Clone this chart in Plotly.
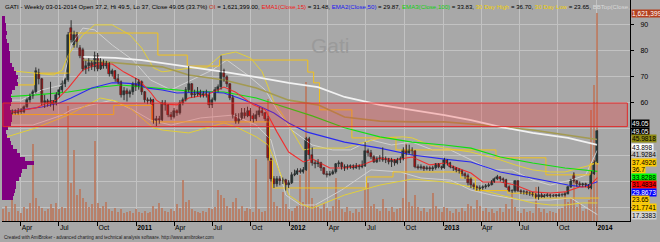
import plotly.graph_objects as go
import pandas as pd

# ---------------- data ----------------
START = "2010-02-19"          # first weekly bar
OPEN = [61.5, 56, 56.5, 55.8, 56.8, 56.2, 57, 56.5, 58.5, 61,
        62.5, 64, 71.5, 69, 60, 60.5, 59.5, 60.5, 59.5, 63,
        65, 67, 68.5, 88.5, 82, 86, 81, 80, 73, 74,
        75, 73.5, 78, 73, 75.5, 74, 75, 71, 72, 69,
        68, 63, 64.5, 63.5, 64, 67, 66, 68, 64, 61,
        60.5, 61, 53, 54, 53.5, 60, 59, 55.5, 54.5, 57,
        56, 60, 61, 65, 67, 63, 63.5, 64, 63, 63.5,
        63, 59, 61, 65, 66, 72, 70, 67, 62, 55,
        52.5, 54, 56, 55, 57, 55, 54, 55.5, 57, 56,
        54, 38.5, 31, 29, 31, 30, 30.5, 28.5, 29.5, 32.5,
        33, 34, 33.5, 34.5, 46, 40, 37, 36.5, 37, 35,
        33, 32.5, 33, 33.5, 36.5, 37, 35.5, 35, 35.5, 35.8,
        35.2, 36, 35.5, 36, 41.5, 41, 39.5, 37.5, 38.5, 39,
        38, 38.5, 37.5, 38, 37, 38, 38.5, 42, 41, 42,
        41.5, 35.5, 35, 35.5, 34.8, 35.2, 34.6, 35, 36.5, 35.5,
        35, 38, 37, 35.5, 35, 34.5, 34, 33, 32, 31,
        28.5, 28, 27, 27.5, 27.8, 28.2, 28.8, 29.8, 30.8, 31.5,
        30.8, 30.5, 28, 26.5, 26.2, 30, 26.5, 26, 25.8, 25.3,
        25.5, 25, 24, 24.8, 24.2, 24.5, 24.8, 24.3, 24.6, 24.4,
        24.9, 24.7, 25.2, 27.8, 32.5, 30, 29, 28.5, 29, 28.5,
        27.5, 33, 37.2]
HIGH = [62.5, 57.5, 57, 57.5, 57.5, 58, 58, 59, 62, 63.5,
        65, 73.5, 73, 69.5, 63, 61.5, 68, 61, 64, 66,
        68.5, 69.5, 87, 91.5, 87.5, 87, 82, 81, 76, 77,
        76, 79.5, 79, 77, 76.5, 76, 75.5, 73, 72.5, 71,
        68.5, 66, 65.5, 65, 68, 69.5, 69, 68.5, 64.5, 62,
        62, 61.5, 55, 55, 61, 61, 59.5, 56.5, 58, 57.5,
        61, 62, 66, 74, 67.5, 65, 66, 65, 64.5, 65,
        64, 62, 66, 67, 78, 73, 70.5, 67.5, 63, 56,
        56, 58, 58, 58.5, 58, 56, 57, 58.5, 58, 56.5,
        55, 39, 32, 32, 32, 31.5, 31, 30.5, 33.5, 34.5,
        35, 35, 35.5, 47, 47, 43, 38, 38.5, 37.5, 35.5,
        34, 34, 34.5, 37, 38, 37.5, 36.5, 36.5, 36.5, 36.5,
        37, 36.5, 38, 45, 42.5, 42, 40, 39.5, 40, 43,
        39.5, 39, 39, 38.5, 39, 39.5, 43, 44, 44, 43,
        42, 36.5, 36.5, 36, 36, 35.8, 36, 37, 37, 36,
        39, 38.5, 37.5, 36, 35.5, 35, 34.5, 33.5, 33, 31.5,
        29.5, 28.5, 28.5, 28.5, 29, 29.5, 30.5, 31.5, 32.5, 32,
        31.5, 31, 28.5, 27, 30.5, 30.5, 27, 26.8, 26.5, 26.2,
        26, 25.5, 28, 25.5, 25.2, 25.5, 25.3, 25.2, 25.2, 25.5,
        25.5, 25.8, 28.3, 31, 33.5, 30.5, 30, 29.5, 29.5, 29,
        34, 38, 49.5]
LOW = [55, 53, 55, 55.5, 55.5, 55.5, 55.8, 56, 58, 60,
       61.5, 63.5, 67, 59, 58, 58.5, 58.5, 57, 59, 62,
       64, 66, 68, 83, 81, 81, 77, 72, 71, 72,
       72.5, 72, 72, 72.5, 73, 73, 70, 70, 68, 67,
       62, 61, 60.5, 62, 63, 64.5, 65, 63, 60, 59.5,
       59.5, 52, 51, 52, 53, 57, 54.5, 53.5, 54, 55,
       55.5, 59, 60.5, 64, 62, 62, 62.5, 62, 62, 62,
       58, 58, 60.5, 64, 65, 68, 66, 61, 54, 52,
       52, 53.5, 54, 54.5, 53, 52.5, 53, 54.5, 55, 53,
       38, 30, 27.5, 28, 28.5, 29, 26.5, 27.5, 29, 32,
       32.5, 33, 33, 34, 38.5, 36, 35, 35.5, 34, 32.5,
       31.5, 32, 32.5, 33, 35.5, 34.5, 34, 34.5, 34.8, 34.5,
       34.8, 34.5, 35, 35.5, 39.5, 38.5, 37, 37, 37.5, 37.5,
       37, 36.5, 35.5, 36, 36.5, 37, 38, 40, 40.5, 40,
       35, 34.5, 34.5, 34, 34.2, 34, 34, 34.5, 35, 34.5,
       34.8, 36, 35, 34, 33.5, 33, 32, 31, 28.5, 27.5,
       27, 26.5, 26.5, 26.8, 27.2, 27.8, 28.5, 29.5, 30.5, 30,
       29.5, 27.5, 26, 25.5, 25.8, 26, 25.2, 25, 24.8, 24.5,
       24.2, 23.5, 23, 23.8, 23.8, 24, 23.8, 24, 23.9, 24.1,
       24.2, 24.3, 25, 27.5, 29.5, 28, 28, 28, 27.8, 27,
       27, 32.5, 37]
CLOSE = [56, 56.5, 55.8, 56.8, 56.2, 57, 56.5, 58.5, 61, 62.5,
         64, 72, 69, 60, 60.5, 59.5, 60.5, 59.5, 63, 65,
         67, 68.5, 86, 84, 86, 83, 78, 73, 74, 75,
         73.5, 78, 73, 75.5, 74, 75, 71, 72, 69, 68,
         63, 64.5, 63.5, 64, 67, 66, 68, 64, 61, 60.5,
         61, 53, 54, 53.5, 60, 59, 55.5, 54.5, 57, 56,
         60, 61, 65, 67, 63, 63.5, 64, 63, 63.5, 63,
         59, 61, 65, 66, 72, 70, 67, 62, 55, 52.5,
         54, 56, 55, 57, 55, 54, 55.5, 57, 56, 54,
         39, 31, 29, 31, 30, 30.5, 28.5, 29.5, 32.5, 33,
         34, 33.5, 34.5, 46, 40, 37, 36.5, 37, 35, 33,
         32.5, 33, 33.5, 36.5, 37, 35.5, 35, 35.5, 35.8, 35.2,
         36, 35.5, 36, 41.5, 41, 39.5, 37.5, 38.5, 39, 38,
         38.5, 37.5, 38, 37, 38, 38.5, 42, 41, 42, 41.5,
         35.5, 35, 35.5, 34.8, 35.2, 34.6, 35, 36.5, 35.5, 35,
         38, 37, 35.5, 35, 34.5, 34, 33, 32, 29.5, 28.5,
         28, 27, 27.5, 27.8, 28.2, 28.8, 29.8, 30.8, 31.5, 30.8,
         30.5, 28, 26.5, 26.2, 30, 26.5, 26, 25.8, 25.3, 25.5,
         25, 24, 24.8, 24.2, 24.5, 24.8, 24.3, 24.6, 24.4, 24.9,
         24.7, 25.2, 27.8, 30.5, 30, 29, 28.5, 29, 28.5, 27.5,
         33, 37, 49.05]
VOLUME_K = [95, 120, 70, 410, 130, 80, 60, 110, 90, 140,
            600, 180, 120, 100, 80, 90, 130, 100, 140, 90,
            110, 100, 900, 300, 550, 200, 250, 180, 150, 110,
            130, 620, 140, 100, 120, 150, 90, 80, 100, 70,
            90, 60, 70, 80, 60, 90, 70, 60, 80, 60,
            70, 120, 90, 140, 100, 80, 70, 90, 80, 130,
            100, 320, 150, 160, 90, 80, 70, 60, 80, 70,
            100, 90, 110, 240, 200, 180, 120, 100, 150, 180,
            90, 120, 80, 100, 90, 70, 480, 90, 70, 80,
            950, 490, 150, 120, 100, 225, 130, 90, 80, 100,
            120, 360, 150, 1080, 460, 180, 130, 110, 90, 140,
            100, 80, 120, 335, 160, 90, 70, 110, 80, 60,
            90, 70, 100, 250, 300, 120, 130, 90, 80, 170,
            100, 80, 110, 70, 90, 100, 180, 610, 150, 120,
            200, 110, 80, 100, 70, 90, 220, 120, 90, 70,
            110, 100, 80, 60, 90, 70, 100, 80, 130, 120,
            90, 160, 120, 80, 100, 70, 90, 60, 80, 100,
            70, 130, 90, 220, 110, 80, 60, 90, 70, 80,
            60, 265, 100, 70, 90, 60, 80, 70, 60, 90,
            100, 225, 150, 170, 375, 110, 140, 80, 90, 160,
            865, 1060, 1621.399]

# indicator lines: (bar index, value) samples
EMA15_IDX = [0, 11, 14, 18, 22, 27, 32, 37, 41, 46, 50, 52, 54, 59, 63, 69, 75, 79, 85, 89,
             93, 97, 102, 105, 111, 116, 122, 128, 133, 139, 145, 150, 156, 159, 163, 169,
             174, 180, 186, 191, 196, 199, 202]
EMA15 = [56, 58, 59.5, 61, 65.6, 72.5, 74.8, 74.8, 71.7, 68.7, 64, 61, 59.5, 59.2, 61.8, 63,
         66, 64, 59.2, 57.3, 48.9, 41.2, 37.4, 38.6, 35.1, 35.1, 36.3, 38.9, 38.2, 39.3, 36.3,
         37, 34.4, 33.2, 29.8, 29.8, 28.6, 26, 25.6, 26, 27.9, 27.9, 31.48]
EMA50_IDX = [0, 6, 13, 19, 23, 30, 37, 40, 45, 49, 54, 59, 69, 75, 80, 86, 92, 97, 103, 107,
             116, 128, 139, 150, 159, 169, 180, 192, 197, 202]
EMA50 = [56, 57.3, 58.4, 59.9, 61.8, 65.6, 67.6, 67.6, 67.2, 65.6, 64.9, 63.7, 64.1, 63.7,
         61.8, 59.2, 56.1, 52.3, 48.9, 47.7, 45, 42.7, 40.1, 38.5, 37.4, 33.6, 31.3, 28.6,
         27.9, 29.87]
EMA100_IDX = [0, 11, 22, 33, 40, 47, 52, 63, 75, 86, 97, 105, 116, 128, 139, 150, 159, 169,
              180, 191, 202]
EMA100 = [62.2, 63, 64.1, 66, 66.8, 66, 65.6, 64.5, 64.1, 61.8, 58, 55, 50.5, 47, 45, 43.9,
          42.7, 39.3, 37, 35.1, 33.83]
WHITE_IDX = [27, 38, 47, 54, 63, 75, 86, 97, 107, 116, 128, 139, 150, 159, 169, 180, 192, 202]
WHITE = [77.5, 77.1, 76.3, 75.2, 73.7, 71.8, 69.8, 67.6, 66, 62.2, 59.2, 57.3, 55.3, 53.4,
         50.8, 48.5, 46.6, 43.898]
OLIVE_IDX = [27, 54, 63, 75, 86, 97, 107, 116, 128, 139, 150, 163, 180, 202]
OLIVE = [76.3, 73.7, 70.6, 68.7, 65.6, 61, 59.2, 54.6, 53, 52.7, 52.7, 51.5, 49.6, 45.98]
YUP_IDX = [0, 6, 17, 20, 22, 27, 31, 37, 43, 47, 51, 54, 59, 64, 69, 74, 79, 84, 88, 92, 95,
           99, 102, 106, 116, 122, 128, 136, 139, 145, 150, 159, 169, 174, 180, 186, 191,
           196, 200, 202]
YUP = [72.5, 71.8, 70.6, 72.5, 78.2, 85.9, 89.7, 89.7, 85.9, 80.9, 73.3, 71.8, 72.5, 73.3,
       73.3, 78.2, 79.4, 77.1, 71.8, 60.3, 55.3, 47.7, 42, 42.7, 42.7, 44.7, 46.6, 47, 46.6,
       43.9, 42.7, 41.2, 38.2, 36.3, 34.4, 33.6, 33.6, 35.1, 36.3, 37.49]
YLO_IDX = [0, 11, 22, 33, 38, 43, 51, 54, 63, 69, 75, 79, 86, 90, 94, 97, 102, 105, 116, 128,
           139, 150, 159, 169, 180, 186, 191, 197, 202]
YLO = [46.6, 50.4, 55.3, 61.8, 60.7, 58, 50.4, 49.6, 48.5, 50.4, 52.3, 50.8, 47, 43.9, 33.6,
       24.8, 21, 19.8, 24.8, 28.6, 30.9, 29.8, 27.9, 24.8, 21.8, 21, 21, 21.8, 21.77]
GUP_IDX = [0, 6, 13, 20, 23, 27, 31, 37, 44, 50, 57, 64, 71, 76, 83, 89, 93, 98, 105, 112,
           118, 125, 132, 139, 146, 152, 159, 166, 173, 180, 186, 193, 198, 202]
GUP = [61, 61, 64.9, 66.8, 82, 88.5, 87.8, 82, 76.3, 68.7, 64.9, 68.7, 72.5, 76.3, 70.6,
       64.9, 57.3, 49.6, 43.9, 42, 42, 45.8, 43.9, 45, 42, 42, 38.2, 34.4, 34.4, 30.5, 28.6,
       30.5, 32.4, 41.93]
GLO_IDX = [0, 10, 20, 23, 30, 37, 44, 50, 57, 67, 78, 86, 91, 96, 101, 106, 115, 125, 135,
           142, 152, 159, 166, 176, 186, 193, 202]
GLO = [51.5, 51.5, 55.3, 57.3, 59.2, 61, 57.3, 53.4, 51.5, 54.2, 55.3, 51.5, 45.8, 24.8, 21,
       21, 26.7, 34.4, 33.6, 31.3, 30.5, 26.7, 24.8, 22.9, 22.9, 23.7, 17.34]
# 30 day high / low step segments: (first bar, last bar, value)
HIGH30 = [(0, 10, 66.8), (11, 22, 71.3), (23, 52, 86.6), (53, 62, 78.2), (63, 73, 74),
          (74, 103, 76.3), (104, 105, 71.7), (106, 107, 67.6), (108, 118, 57.3),
          (119, 133, 46.6), (134, 167, 42), (168, 184, 39), (185, 199, 32.5), (200, 202, 36.7)]
LOW30 = [(0, 37, 55.5), (38, 50, 59), (51, 90, 52.7), (91, 91, 38), (92, 123, 27.5),
         (124, 132, 31.7), (133, 155, 33.6), (156, 160, 31.3), (161, 171, 26.5),
         (172, 180, 25.5), (181, 202, 23.65)]
# volume-at-price profile (price level, relative volume)
PROFILE_PRICE = [92.5, 91, 89.5, 88, 86.5, 85, 83.5, 82, 80.5, 79, 77.5, 76, 74.5, 73, 71.5,
                 70, 68.5, 67, 65.5, 64, 62.5, 61, 59.5, 58, 56.5, 55, 53.5, 52, 50.5, 49,
                 47.5, 46, 44.5, 43, 41.5, 40, 38.5, 37, 35.5, 34, 32.5, 31, 29.5, 28, 26.5,
                 25, 23.5]
PROFILE_VOL = [3, 3, 4, 4, 5, 4, 5, 7, 7, 8, 8, 8, 10, 12, 14, 16, 15, 16, 13, 10, 9, 10, 9, 8,
               9, 10, 10, 9, 6, 4, 5, 8, 9, 11, 15, 18, 23, 32, 25, 20, 19, 17, 14, 14, 13, 12,
               11]
BAND = (50.9, 59.9)           # highlighted price zone
QUARTERS = ["2010-04-01", "2010-07-01", "2010-10-01", "2011-01-01", "2011-04-01", "2011-07-01",
            "2011-10-01", "2012-01-01", "2012-04-01", "2012-07-01", "2012-10-01", "2013-01-01",
            "2013-04-01", "2013-07-01", "2013-10-01", "2014-01-01"]
QUARTER_TEXT = ["Apr", "Jul", "Oct", "<b>2011</b>", "Apr", "Jul", "Oct", "<b>2012</b>", "Apr",
                "Jul", "Oct", "<b>2013</b>", "Apr", "Jul", "Oct", "<b>2014</b>"]
PRICE_TICKS = [20, 30, 40, 50, 60, 70, 80, 90]
# tick texts (the lower ones sit under the value labels in the reference, so they stay blank)
PRICE_TICK_TEXT = ["", "", "", "", "60", "70", "80", "90"]
# right-hand value labels: text, background, text colour, pixel row
VALUE_LABELS = [("1,621,399", "#B4401E", "#FFFFFF", 13), ("49.05", "#000000", "#FFFFFF", 123),
                ("49.05", "#000000", "#FFFFFF", 131), ("45.9818", "#8E8A12", "#000000", 138),
                ("43.898", "#FFFFFF", "#000000", 147), ("41.9284", "#C4C4C4", "#000000", 154),
                ("37.4926", "#FFCC00", "#000000", 162), ("36.7", "#FFCC00", "#000000", 169),
                ("33.8288", "#00FF00", "#000000", 177), ("31.4834", "#FF0000", "#000000", 184),
                ("29.8673", "#0000FF", "#FFFFFF", 192), ("23.65", "#FFCC00", "#000000", 199),
                ("21.7741", "#FFCC00", "#000000", 207), ("17.3383", "#D4D4D4", "#000000", 215)]

N = len(CLOSE)
assert len(OPEN) == len(HIGH) == len(LOW) == len(VOLUME_K) == N
base = pd.Timestamp(START)


def at(i):
    return (base + pd.Timedelta(days=7 * i)).round("s").to_pydatetime()


dates = [at(i) for i in range(N)]

BG = "#A8A8A8"
W, H = 660, 242
ML, MR, MT, MB = 2, 30, 0, 21
PH = H - MT - MB
WEEK_MS = 7 * 86400000
FONT = "Liberation Sans, Arial"

fig = go.Figure()

# volume (base axes)
fig.add_trace(go.Bar(x=dates, y=VOLUME_K, width=0.36 * WEEK_MS, marker_color="#BA7A60",
                     opacity=0.85, marker_line_width=0, xaxis="x", yaxis="y", showlegend=False))


def line(idx, vals, color, width=1.0):
    fig.add_trace(go.Scatter(x=[at(i) for i in idx], y=vals, mode="lines",
                             line=dict(color=color, width=width),
                             xaxis="x", yaxis="y2", showlegend=False, hoverinfo="skip"))


def steps(segs, color):
    xs, ys = [], []
    for s, e, v in segs:
        xs.append(at(s - 0.5))
        ys.append(v)
    xs.append(at(segs[-1][1] + 0.5))
    ys.append(segs[-1][2])
    fig.add_trace(go.Scatter(x=xs, y=ys, mode="lines", line=dict(color=color, width=1, shape="hv"),
                             xaxis="x", yaxis="y2", showlegend=False, hoverinfo="skip"))


line(GUP_IDX, GUP, "#D0D0D0", 1)
line(GLO_IDX, GLO, "#D0D0D0", 1)
line(YUP_IDX, YUP, "#E2CF3A", 1)
line(YLO_IDX, YLO, "#E2CF3A", 1)
steps(HIGH30, "#F2C21A")
steps(LOW30, "#F2C21A")
line(OLIVE_IDX, OLIVE, "#A39A52", 1.6)
line(WHITE_IDX, WHITE, "#F2F2F2", 1.8)
line(EMA100_IDX, EMA100, "#10E010", 1.1)
line(EMA50_IDX, EMA50, "#2A2AF0", 1.1)
line(EMA15_IDX, EMA15, "#F03030", 1.1)

# wicks
wx, wy = [], []
for d, h, l in zip(dates, HIGH, LOW):
    wx += [d, d, None]
    wy += [l, h, None]
fig.add_trace(go.Scatter(x=wx, y=wy, mode="lines", line=dict(color="#303030", width=1),
                         xaxis="x", yaxis="y2", showlegend=False, hoverinfo="skip"))
# bodies
up = [c >= o for o, c in zip(OPEN, CLOSE)]
fig.add_trace(go.Bar(x=dates, y=[max(abs(c - o), 0.25) for o, c in zip(OPEN, CLOSE)],
                     base=[min(o, c) for o, c in zip(OPEN, CLOSE)], width=0.68 * WEEK_MS,
                     marker=dict(color=["#1F4040" if u else "#FF0000" for u in up],
                                 line=dict(color="#1A1A1A", width=0.5)),
                     xaxis="x", yaxis="y2", showlegend=False))

# volume profile
fig.add_trace(go.Bar(y=PROFILE_PRICE, x=PROFILE_VOL, orientation="h", width=1.5,
                     marker_color="#800080", marker_line_width=0, xaxis="x2", yaxis="y2",
                     showlegend=False))

PMIN, PMAX = 14.9, 99.2
fig.add_shape(type="rect", xref="x", yref="y2", x0=at(-0.2), x1=at(212.2), y0=BAND[0], y1=BAND[1],
              fillcolor="rgba(255,40,40,0.26)", line=dict(color="#E02A2A", width=1), layer="above")

title = ("GATI - Weekly 03-01-2014 Open 37.2, Hi 49.5, Lo 37, Close 49.05 (33.7%) "
         "<span style='color:#C8341A'>OI</span> = 1,621,399.00, "
         "<span style='color:#F01818'>EMA1(Close,15)</span> = 31.48, "
         "<span style='color:#1818F0'>EMA2(Close,50)</span> = 29.87, "
         "<span style='color:#10D010'>EMA3(Close,100)</span> = 33.83, "
         "<span style='color:#F0D000'>30 Day High</span> = 36.70, "
         "<span style='color:#F0D000'>30 Day Low</span> = 23.65, "
         "<span style='color:#D8D8D8'>BBTop(Close,</span>")
ann = [dict(text=title, x=0.002, y=1 - 6.5 / PH, xref="paper", yref="paper", xanchor="left",
            yanchor="middle", showarrow=False, font=dict(size=6.1, color="#000000", family=FONT)),
       dict(text="Gati", x=(330 - ML) / (W - ML - MR), y=1 - 32 / PH, xref="paper", yref="paper",
            showarrow=False, font=dict(size=21, color="#9A9A9A", family=FONT)),
       dict(text="Created with AmiBroker - advanced charting and technical analysis software. "
                 "http://www.amibroker.com",
            x=0, y=-(237 - PH) / PH, xref="paper", yref="paper", xanchor="left", yanchor="middle",
            showarrow=False, font=dict(size=4.6, color="#202020", family=FONT))]
for txt, bg, fg, ypx in VALUE_LABELS:
    ann.append(dict(text=txt, x=1, xshift=1, y=1 - ypx / PH, xref="paper", yref="paper",
                    xanchor="left", yanchor="middle", showarrow=False, bgcolor=bg, borderpad=0,
                    font=dict(size=6.6, color=fg, family=FONT)))

fig.update_layout(
    width=W, height=H, margin=dict(l=ML, r=MR, t=MT, b=MB), paper_bgcolor=BG, plot_bgcolor=BG,
    barmode="overlay", bargap=0, annotations=ann, showlegend=False,
    xaxis=dict(type="date", range=[at(-0.51), at(213.1)], tickvals=QUARTERS, ticktext=QUARTER_TEXT,
               ticklabelposition="outside right", ticks="outside", ticklen=4, tickcolor="#000",
               showgrid=True, gridcolor="#C2C2C2", gridwidth=1, showline=True, linecolor="#000",
               linewidth=1, tickfont=dict(size=6.8, color="#000", family=FONT),
               zeroline=False, fixedrange=True),
    xaxis2=dict(overlaying="x", range=[0, W - ML - MR], visible=False, fixedrange=True),
    yaxis=dict(range=[0, 1621.399 * PH / 208], visible=False, fixedrange=True),
    yaxis2=dict(overlaying="y", side="right", range=[PMIN, PMAX], tickvals=PRICE_TICKS,
                ticktext=PRICE_TICK_TEXT,
                ticks="outside", ticklen=3, tickcolor="#000", ticklabelstandoff=5,
                showgrid=True, gridcolor="#C2C2C2", gridwidth=1, showline=True, linecolor="#000",
                linewidth=1, zeroline=False,
                tickfont=dict(size=7, color="#000", family=FONT),
                fixedrange=True),
)
fig.write_html("out.html")
